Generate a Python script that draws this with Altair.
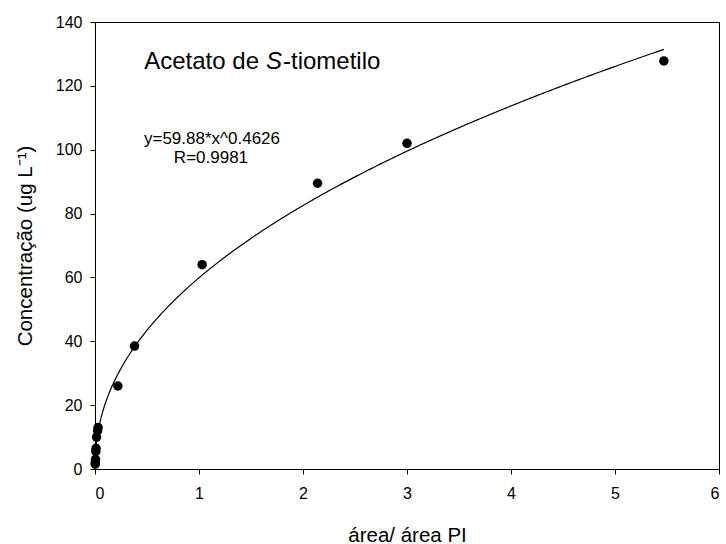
import altair as alt
import numpy as np
import pandas as pd

# Calibration points: peak-area ratio vs concentration (ug/L)
area_ratio = [0.002, 0.003, 0.005, 0.008, 0.010, 0.015, 0.025, 0.030,
              0.22, 0.38, 1.03, 2.14, 3.00, 5.47]
concentration = [1.5, 2.2, 3.0, 5.5, 6.5, 10.0, 12.0, 13.0,
                 26.0, 38.5, 64.0, 89.5, 102.0, 127.8]

# Power-law fit y = a * x^b
fit_a = 59.88
fit_b = 0.4626
fit_label = "y=59.88*x^0.4626"
r_label = "R=0.9981"

x_ticks = [0, 1, 2, 3, 4, 5, 6]
y_ticks = [0, 20, 40, 60, 80, 100, 120, 140]

points = pd.DataFrame({"x": area_ratio, "y": concentration})

xs = np.linspace(0.001, max(area_ratio), 400)
curve = pd.DataFrame({"x": xs, "y": fit_a * xs ** fit_b})

FONT = "Liberation Sans"

x_scale = alt.Scale(domain=[0, 6], nice=False, zero=False)
y_scale = alt.Scale(domain=[0, 140], nice=False)

x_axis = alt.Axis(values=x_ticks, format="d", grid=False, tickSize=5,
                  tickColor="black", domainColor="black", labelColor="black",
                  labelFont=FONT, labelFontSize=16, labelPadding=11,
                  title="área/ área PI", titleFont=FONT, titleFontSize=20.5,
                  titleFontWeight="normal", titleColor="black",
                  titleY=72, titleBaseline="alphabetic")
y_axis = alt.Axis(values=y_ticks, format="d", grid=False, tickSize=5,
                  tickColor="black", domainColor="black", labelColor="black",
                  labelFont=FONT, labelFontSize=16, labelPadding=8,
                  title="Concentração (ug L⁻¹)", titleFont=FONT, titleFontSize=20.5,
                  titleFontWeight="normal", titleColor="black",
                  titleX=-64, titleBaseline="alphabetic")

fit_line = alt.Chart(curve).mark_line(color="black", strokeWidth=1.2).encode(
    x=alt.X("x:Q", scale=x_scale, axis=x_axis),
    y=alt.Y("y:Q", scale=y_scale, axis=y_axis),
)

dots = alt.Chart(points).mark_circle(color="black", opacity=1, size=90).encode(
    x=alt.X("x:Q", scale=x_scale),
    y=alt.Y("y:Q", scale=y_scale),
)

# Title "Acetato de S-tiometilo" with an italic S
title_x = 1.644
title_y = 125.3
title_a = alt.Chart().mark_text(font=FONT, fontSize=24, align="right", dx=-7,
                                baseline="alphabetic", color="black").encode(
    x=alt.datum(title_x), y=alt.datum(title_y), text=alt.value("Acetato de"))
title_s = alt.Chart().mark_text(font=FONT, fontSize=24, fontStyle="italic",
                                align="left", baseline="alphabetic",
                                color="black").encode(
    x=alt.datum(title_x), y=alt.datum(title_y), text=alt.value("S"))
title_b = alt.Chart().mark_text(font=FONT, fontSize=24, align="left", dx=17,
                                baseline="alphabetic", color="black").encode(
    x=alt.datum(title_x), y=alt.datum(title_y), text=alt.value("-tiometilo"))

eq_text = alt.Chart().mark_text(font=FONT, fontSize=17, align="center",
                                baseline="alphabetic", color="black").encode(
    x=alt.datum(1.125), y=alt.datum(101.8), text=alt.value(fit_label))
r_text = alt.Chart().mark_text(font=FONT, fontSize=17, align="center",
                               baseline="alphabetic", color="black").encode(
    x=alt.datum(1.115), y=alt.datum(95.8), text=alt.value(r_label))

chart = alt.layer(fit_line, dots, title_a, title_s, title_b, eq_text, r_text).properties(
    width=624, height=447,
    autosize=alt.AutoSizeParams(type="none"),
    padding={"left": 95, "top": 22, "right": 7, "bottom": 75},
    background="white",
).configure_view(stroke="black", strokeWidth=1)

chart.save("out.html", embed_options={"renderer": "svg", "actions": False})
